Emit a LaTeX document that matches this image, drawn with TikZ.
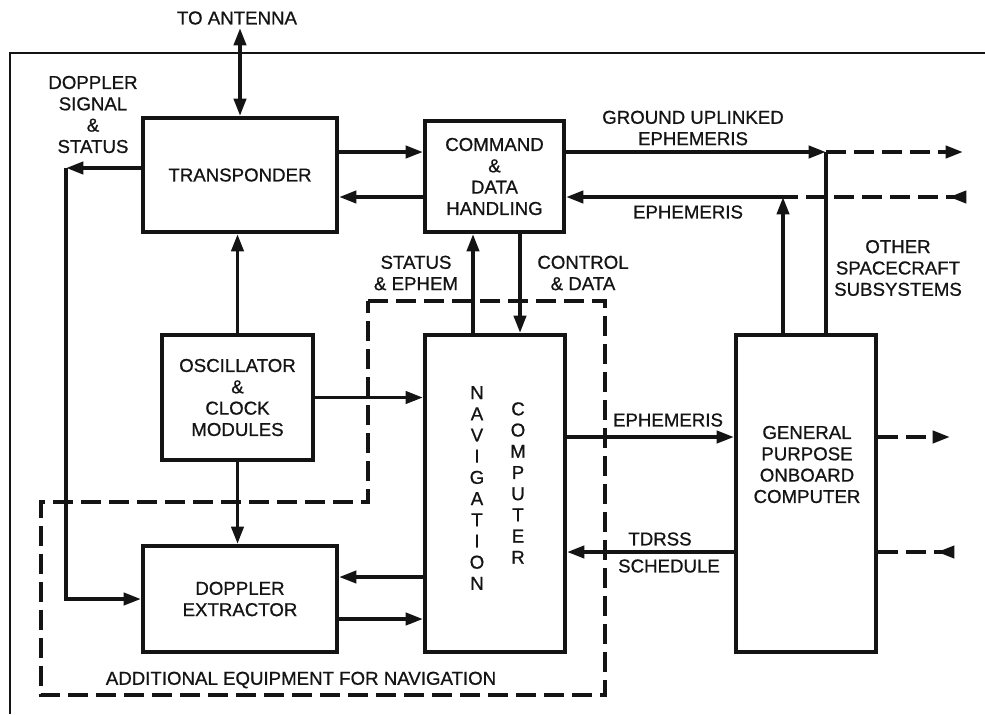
\documentclass[tikz,border=0pt]{standalone}
\usepackage{fontspec}
\setmainfont{Liberation Sans}[FakeBold=0.8]
\usetikzlibrary{arrows.meta, calc}
\definecolor{ink}{HTML}{141414}
\tikzset{
  box/.style={draw=ink, line width=2.9pt, align=center, inner sep=0pt,
              font=\fontsize{14}{16}\selectfont, text=ink},
  lbl/.style={align=center, inner sep=0pt, font=\fontsize{14}{16}\selectfont, text=ink},
  vlbl/.style={align=center, inner sep=0pt, font=\fontsize{14}{15.9}\selectfont, text=ink},
  wire/.style={line width=2.9pt, draw=ink},
  fl/.style={-{Triangle[length=13pt, width=9pt]}, line width=2.9pt, draw=ink},
  bfl/.style={{Triangle[length=13pt, width=9pt]}-{Triangle[length=13pt, width=9pt]}, line width=2.9pt, draw=ink},
  dline/.style={wire, dash pattern=on 15pt off 6pt},
  dfl/.style={fl, dash pattern=on 15pt off 6pt},
}

\begin{document}
\begin{tikzpicture}[x=0.75pt, y=-0.75pt]
    \useasboundingbox (0,0) rectangle (985,714);
    % spacecraft frame
    \draw[line width=2pt, draw=ink] (10,714) -- (10,53) -- (985,53);

    % blocks
    \node[box, minimum width=145.5pt, minimum height=85.5pt] (trans) at (240,175) {TRANSPONDER};
    \node[box, minimum width=104.25pt, minimum height=83.25pt] (cdh) at (494.5,176.5) {COMMAND\\\&\\DATA\\HANDLING};
    \node[box, minimum width=113.25pt, minimum height=93.75pt] (osc) at (237.5,397.5) {OSCILLATOR\\\&\\CLOCK\\MODULES};
    \node[box, minimum width=105pt, minimum height=237.75pt] (nav) at (495,493.5) {};
    \node[box, minimum width=145.5pt, minimum height=79.5pt] (dopx) at (240,599) {DOPPLER\\EXTRACTOR};
    \node[box, minimum width=105pt, minimum height=237.75pt] (gpc) at (806,493.5) {};
    \node[vlbl] (navw) at (477,488) {N\\A\\V\\I\\G\\A\\T\\I\\O\\N};
    \node[vlbl] (compw) at (518,483) {C\\O\\M\\P\\U\\T\\E\\R};
    \node[lbl] (gpcw) at (807,464.5) {GENERAL\\PURPOSE\\ONBOARD\\COMPUTER};

    % additional equipment
    \draw[dline] (368,301) -- (605,301) -- (605,695) -- (41,695) -- (41,502) -- (368,502) -- cycle;
    \node[lbl] (addlbl) at (301,680) {ADDITIONAL EQUIPMENT FOR NAVIGATION};

    % antenna
    \coordinate (ant) at (240,28);
    \draw[bfl] (ant) -- (trans.north);
    \node[lbl] (antlbl) at (237,18) {TO ANTENNA};

    % transponder links
    \draw[fl] (trans.east |- 0,152) -- (cdh.west |- 0,152);
    \draw[fl] (cdh.west |- 0,197) -- (trans.east |- 0,197);
    \coordinate (dsig) at (66,168);
    \draw[fl] (trans.west |- dsig) -- (dsig);
    \draw[fl] (dsig) |- (dopx.west);
    \node[lbl] (dsiglbl) at (93,114.5) {DOPPLER\\SIGNAL\\\&\\STATUS};

    % oscillator
    \draw[fl] (osc.north) -- (osc.north |- trans.south);
    \draw[fl] (osc.south) -- (osc.south |- dopx.north);
    \draw[fl] (osc.east) -- (osc.east -| nav.west);

    % navigation computer
    \draw[fl] (nav.north -| 473,0) -- (cdh.south -| 473,0);
    \draw[fl] (cdh.south -| 520,0) -- (nav.north -| 520,0);
    \node[lbl] (stlbl) at (416,273) {STATUS\\\& EPHEM};
    \node[lbl] (ctlbl) at (583,273) {CONTROL\\\& DATA};
    \draw[fl] (nav.west |- 0,577) -- (dopx.east |- 0,577);
    \draw[fl] (dopx.east |- 0,619) -- (nav.west |- 0,619);
    \draw[fl] (nav.east |- 0,437) -- (gpc.west |- 0,437);
    \draw[fl] (gpc.west |- 0,552) -- (nav.east |- 0,552);
    \node[lbl] (ephlbl) at (668,420) {EPHEMERIS};
    \node[lbl] (tdlbl) at (660,539) {TDRSS};
    \node[lbl] (schlbl) at (669,566) {SCHEDULE};

    % other spacecraft subsystems
    \coordinate (up1) at (826,152);
    \coordinate (out1) at (963,152);
    \draw[fl] (cdh.east |- up1) -- (up1);
    \draw[wire] (gpc.north -| up1) -- (up1);
    \draw[dfl] (up1) -- (out1);
    \node[lbl] (gulbl) at (693,128) {GROUND UPLINKED\\EPHEMERIS};
    \coordinate (up2) at (783,197);
    \coordinate (in1) at (966,197);
    \draw[fl] (gpc.north -| up2) -- (up2);
    \draw[fl] (up2) -- (cdh.east |- up2);
    \draw[dline] (in1) -- (up2);
    \draw[fl] (in1) -- ++(-17,0);
    \node[lbl] (reflbl) at (688,212) {EPHEMERIS};
    \node[lbl] (osslbl) at (898,268) {OTHER\\SPACECRAFT\\SUBSYSTEMS};
    \coordinate (out2) at (950,437);
    \draw[dfl] (gpc.east |- out2) -- (out2);
    \coordinate (in2) at (954,552);
    \draw[dline] (in2) -- (gpc.east |- in2);
    \draw[fl] (in2) -- ++(-17,0);
\end{tikzpicture}
\end{document}
